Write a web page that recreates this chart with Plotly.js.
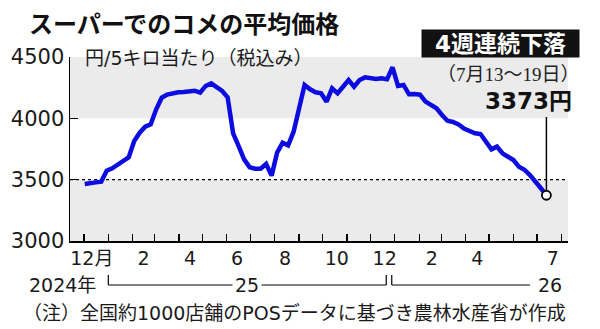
<!DOCTYPE html>
<html>
<head>
<meta charset="utf-8">
<script src="https://cdn.plot.ly/plotly-3.0.1.min.js"></script>
<style>
  html, body { margin: 0; padding: 0; background: #fff; }
  #chart { width: 600px; height: 329px; }
</style>
</head>
<body>
<div id="chart"></div>
<script>
// ---- data ----
const firstWeekStart = '2024-12-02';   // week of Dec 2-8, 2024 (Mon-Sun weeks)
const prices = [
  3465, 3475, 3478, 3484, 3573, 3592, 3625, 3652, 3682, 3815,
  3883, 3932, 3951, 4074, 4168, 4193, 4204, 4212, 4215, 4218,
  4225, 4209, 4264, 4285, 4258, 4223, 4171, 3878, 3774, 3666,
  3601, 3590, 3590, 3628, 3533, 3720, 3802, 3780, 3891, 4100,
  4272, 4237, 4212, 4204, 4136, 4245, 4204, 4258, 4312, 4258,
  4312, 4334, 4323, 4320, 4326, 4318, 4416, 4264, 4272, 4196,
  4198, 4193, 4136, 4109, 4082, 4027, 3980, 3970, 3951, 3916,
  3897, 3878, 3872, 3815, 3747, 3769, 3715, 3687, 3660, 3606,
  3581, 3538, 3489, 3430, 3373
];
const xTickText = ['12月', '2', '4', '6', '8', '10', '12', '2', '4', '7'];
const xTickVals = ['2024-12-11', '2025-02-15', '2025-04-15', '2025-06-14', '2025-08-14',
                   '2025-10-19', '2025-12-19', '2026-02-17', '2026-04-16', '2026-07-21'];
const yTickVals = [3000, 3500, 4000, 4500];
const yearLabels = ['2024年', '25', '26'];
const titleText = 'スーパーでのコメの平均価格';
const badgeText = '4週連続下落';
const lastWeekText = '（7月13～19日）';
const unitText = '円/5キロ当たり（税込み）';
const noteText = '（注）全国約1000店舗のPOSデータに基づき農林水産省が作成';

// weekly dates
function weekDates(start, n) {
  const out = [];
  const d0 = new Date(start + 'T00:00:00Z');
  for (let i = 0; i < n; i++) {
    const d = new Date(d0.getTime() + i * 7 * 86400000);
    out.push(d.toISOString().slice(0, 10));
  }
  return out;
}
const dates = weekDates(firstWeekStart, prices.length);
const lastDate = dates[dates.length - 1];
const lastPrice = prices[prices.length - 1];

const JP = '"Noto Sans CJK JP", sans-serif';
const NUM = '"DejaVu Sans", "Noto Sans CJK JP", sans-serif';

const traces = [
  {
    x: dates, y: prices, type: 'scatter', mode: 'lines',
    line: { color: '#0c0ce0', width: 4.5, shape: 'linear' },
    hoverinfo: 'skip', showlegend: false
  },
  {
    x: [lastDate], y: [lastPrice], type: 'scatter', mode: 'markers',
    marker: { size: 9, color: '#ffffff', line: { color: '#000', width: 1.8 } },
    hoverinfo: 'skip', showlegend: false
  }
];

const yB = -0.2391, yT = -0.185;
const layout = {
  width: 600, height: 329,
  margin: { l: 70, r: 32, t: 57, b: 88 },
  paper_bgcolor: '#ffffff', plot_bgcolor: '#ffffff',
  showlegend: false,
  xaxis: {
    type: 'date',
    range: ['2024-11-13 05:00', '2026-08-09 12:00'],
    tickmode: 'array', tickvals: xTickVals, ticktext: xTickText,
    ticks: '', showgrid: false, zeroline: false,
    showline: true, linecolor: '#000', linewidth: 1.5,
    tickfont: { family: NUM, size: 19, color: '#1a1a1a' },
    minor: { ticks: 'inside', ticklen: 7, tickwidth: 1.2, tickcolor: '#000',
             dtick: 'M1', tick0: '2024-12-01', showgrid: false },
    fixedrange: true
  },
  yaxis: {
    range: [3000, 4500],
    tickmode: 'array', tickvals: yTickVals,
    ticks: 'inside', ticklen: 8, tickwidth: 1.2, tickcolor: '#000',
    showgrid: false, zeroline: false,
    showline: true, linecolor: '#000', linewidth: 1.5,
    tickfont: { family: NUM, size: 21, color: '#1a1a1a' },
    fixedrange: true
  },
  shapes: [
    { type: 'rect', xref: 'paper', yref: 'y', x0: 0, x1: 1, y0: 4000, y1: 4500,
      fillcolor: '#ebebeb', line: { width: 0 }, layer: 'below' },
    { type: 'rect', xref: 'paper', yref: 'y', x0: 0, x1: 1, y0: 3000, y1: 3500,
      fillcolor: '#ebebeb', line: { width: 0 }, layer: 'below' },
    { type: 'line', xref: 'paper', yref: 'y', x0: 0, x1: 1, y0: 3500, y1: 3500,
      line: { color: '#000', width: 1.2, dash: 'dot' }, layer: 'below' },
    { type: 'line', xref: 'x', yref: 'y', x0: lastDate, x1: lastDate, y0: lastPrice, y1: 4011,
      line: { color: '#000', width: 1.5 }, layer: 'below' },
    // 2025 bracket
    { type: 'line', xref: 'x', yref: 'paper', x0: '2025-01-01', x1: '2025-12-21', y0: yB, y1: yB,
      line: { color: '#000', width: 1.2 } },
    { type: 'line', xref: 'x', yref: 'paper', x0: '2025-01-01', x1: '2025-01-01', y0: yB, y1: yT,
      line: { color: '#000', width: 1.2 } },
    { type: 'line', xref: 'x', yref: 'paper', x0: '2025-12-21', x1: '2025-12-21', y0: yB, y1: yT,
      line: { color: '#000', width: 1.2 } },
    // 2026 bracket
    { type: 'line', xref: 'x', yref: 'paper', x0: '2025-12-28', x1: '2026-06-22', y0: yB, y1: yB,
      line: { color: '#000', width: 1.2 } },
    { type: 'line', xref: 'x', yref: 'paper', x0: '2025-12-28', x1: '2025-12-28', y0: yB, y1: yT,
      line: { color: '#000', width: 1.2 } }
  ],
  annotations: [
    { text: titleText, xref: 'paper', yref: 'paper', x: -0.0863, y: 1.19,
      xanchor: 'left', yanchor: 'middle', showarrow: false,
      font: { family: JP, size: 24, color: '#111', weight: 600 } },
    { text: badgeText, xref: 'paper', yref: 'paper', x: 0.8635, y: 1.0734,
      xanchor: 'center', yanchor: 'middle', showarrow: false,
      bgcolor: '#111', borderpad: 1, width: 155, height: 25,
      font: { family: NUM, size: 23, color: '#fff', weight: 600 } },
    { text: lastWeekText, xref: 'paper', yref: 'paper', x: 0.8815, y: 0.9076,
      xanchor: 'center', yanchor: 'middle', showarrow: false,
      font: { family: '"Liberation Serif", "Noto Sans CJK JP", serif', size: 19, color: '#222' } },
    { text: lastPrice + '円', xref: 'paper', yref: 'paper', x: 0.9197, y: 0.761,
      xanchor: 'center', yanchor: 'middle', showarrow: false,
      font: { family: NUM, size: 23, color: '#111', weight: 700 } },
    { text: unitText, xref: 'paper', yref: 'paper', x: 0.0261, y: 0.9946,
      xanchor: 'left', yanchor: 'middle', showarrow: false,
      font: { family: NUM, size: 19, color: '#1a1a1a' } },
    { text: yearLabels[0], xref: 'paper', yref: 'paper', x: 0.0562, y: yB,
      xanchor: 'right', yanchor: 'middle', showarrow: false,
      font: { family: NUM, size: 19, color: '#1a1a1a' } },
    { text: yearLabels[1], xref: 'x', yref: 'paper', x: '2025-06-27', y: yB,
      xanchor: 'center', yanchor: 'middle', showarrow: false, bgcolor: '#fff', borderpad: 2,
      font: { family: NUM, size: 19, color: '#1a1a1a' } },
    { text: yearLabels[2], xref: 'x', yref: 'paper', x: '2026-07-17', y: yB,
      xanchor: 'center', yanchor: 'middle', showarrow: false,
      font: { family: NUM, size: 19, color: '#1a1a1a' } },
    { text: noteText, xref: 'paper', yref: 'paper', x: 1.0, y: -0.391,
      xanchor: 'right', yanchor: 'middle', showarrow: false,
      font: { family: NUM, size: 19, color: '#1a1a1a' } }
  ]
};

Plotly.newPlot('chart', traces, layout, { displayModeBar: false, staticPlot: true });
</script>
</body>
</html>
